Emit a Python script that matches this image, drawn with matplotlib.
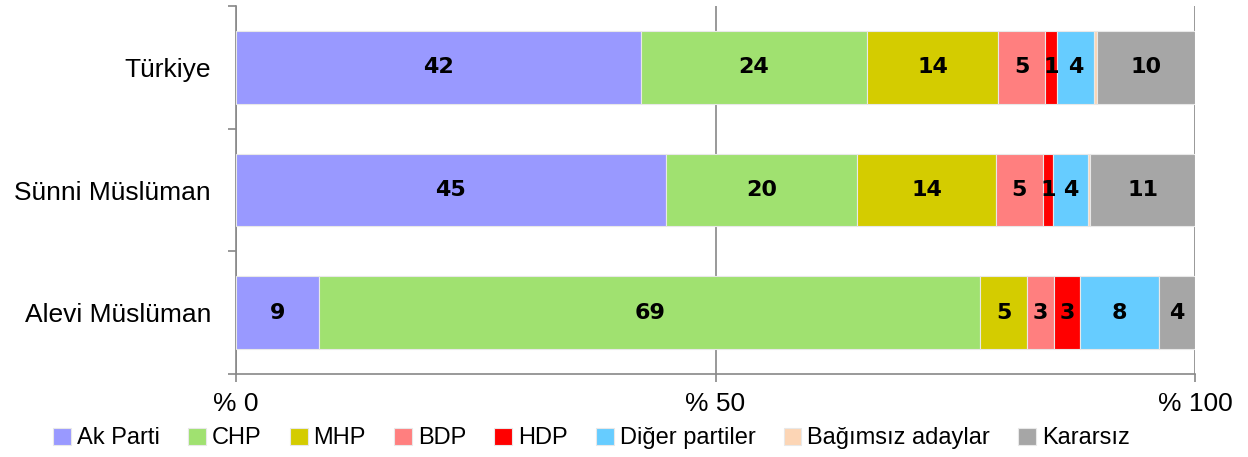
import matplotlib.pyplot as plt
import numpy as np

# Data (percent, each row sums to 100)
groups = ["Türkiye", "Sünni Müslüman", "Alevi Müslüman"]
parties = ["Ak Parti", "CHP", "MHP", "BDP", "HDP", "Diğer partiler",
           "Bağımsız adaylar", "Kararsız"]
ak_parti = [42.2, 44.8, 8.7]
chp = [23.6, 20.0, 68.9]
mhp = [13.7, 14.4, 4.9]
bdp = [4.9, 4.9, 2.8]
hdp = [1.2, 1.1, 2.7]
diger = [3.9, 3.6, 8.2]
bagimsiz = [0.3, 0.3, 0.0]
kararsiz = [10.2, 10.9, 3.8]
xticks = [0, 50, 100]
xtick_labels = ["% 0", "% 50", "% 100"]

colors = ["#9999FF", "#A0E170", "#D4CC00", "#FF7F7F", "#FF0000",
          "#66CCFF", "#FCD5B5", "#A6A6A6"]
series = [ak_parti, chp, mhp, bdp, hdp, diger, bagimsiz, kararsiz]

plt.rcParams['font.family'] = ['Liberation Sans', 'DejaVu Sans']

fig = plt.figure(figsize=(12.48, 4.57), dpi=100)
ax = fig.add_axes([236 / 1248, (457 - 374) / 457, (1195 - 236) / 1248, (374 - 6) / 457])

y = np.arange(len(groups))[::-1]
left = np.zeros(len(groups))
for name, vals, col in zip(parties, series, colors):
    vals = np.array(vals)
    ax.barh(y, vals, left=left, height=0.59, color=col, edgecolor="#E8E8E8",
            linewidth=0.8, label=name, zorder=3)
    for yi, l, v in zip(y, left, vals):
        if v >= 0.5:
            ax.text(l + v / 2, yi, f"{v:.0f}", ha="center", va="center",
                    fontsize=16, fontweight="heavy", family="DejaVu Sans",
                    color="black", zorder=4)
    left += vals

ax.set_xlim(0, 100)
ax.set_ylim(-0.5, 2.5)
ax.set_xticks(xticks)
ax.set_xticklabels(xtick_labels, fontsize=19)
ax.set_yticks(y)
ax.set_yticklabels(groups, fontsize=19)
ax.set_yticks([-0.5, 0.5, 1.5, 2.5], minor=True)
ax.tick_params(axis="y", which="major", length=0, pad=18)
ax.tick_params(axis="y", which="minor", length=6, color="#888888", width=1.2)
ax.tick_params(axis="x", length=6, color="#888888", width=1.2, pad=7)
ax.grid(axis="x", color="#888888", linewidth=1.2, zorder=0)

for s in ["top", "right"]:
    ax.spines[s].set_visible(False)
for s in ["left", "bottom"]:
    ax.spines[s].set_color("#888888")
    ax.spines[s].set_linewidth(1.2)

fig.legend(loc="lower center", bbox_to_anchor=(0.474, -0.03), ncol=8,
           frameon=False, fontsize=17, handlelength=0.75, handleheight=0.75,
           handletextpad=0.25, columnspacing=1.2)

plt.savefig("out.png", dpi=100)
